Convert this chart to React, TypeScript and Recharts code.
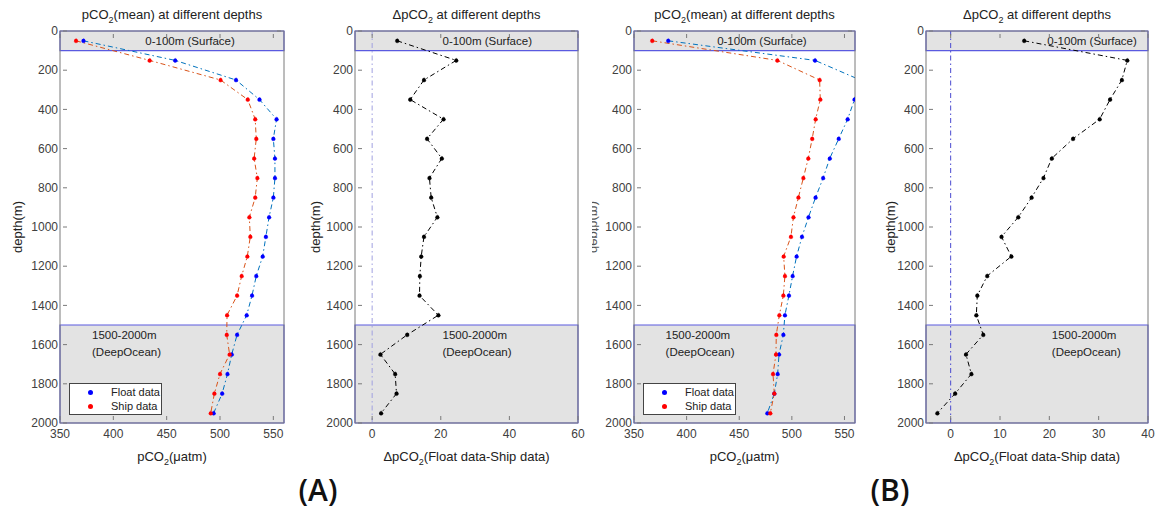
import React from "react";
import {
  LineChart,
  Line,
  XAxis,
  YAxis,
  ReferenceArea,
  ReferenceLine,
  ReferenceDot,
  Legend,
} from "recharts";

// depth bins (m), centre of each 100 m layer
const DEPTHS = [
  50, 150, 250, 350, 450, 550, 650, 750, 850, 950, 1050, 1150, 1250, 1350,
  1450, 1550, 1650, 1750, 1850, 1950,
];

// (A)
const FLOAT_A = [
  372, 458, 515, 537, 553, 550, 551.5, 551.5, 550, 546, 543, 540, 534, 530,
  525, 516, 511, 507, 502, 494,
];
const SHIP_A = [
  365, 434, 500.5, 526, 533, 534, 532, 535, 533, 527.5, 528.4, 525.6, 520.3,
  516, 506.6, 506.3, 509, 500, 494.7, 491.3,
];
const DELTA_A = [
  7.3, 24.5, 15.1, 11.1, 20.8, 16.0, 20.3, 16.7, 17.2, 19.0, 15.1, 14.3, 13.9,
  13.8, 19.3, 10.2, 2.4, 6.7, 7.1, 2.6,
];

// (B)
const FLOAT_B = [
  382.5, 522, 565, 559.5, 553, 544.5, 536, 529.7, 522.5, 515.8, 509.6, 504.5,
  500.7, 497.2, 493.4, 491.9, 487.8, 486.5, 483.3, 476.7,
];
const SHIP_B = [
  367.3, 486.2, 526.4, 527, 522.6, 519.3, 515.6, 510.9, 506.2, 501.5, 499.1,
  492.2, 493.4, 491.9, 488.1, 485.2, 484.9, 482.1, 483.3, 479.5,
];
const DELTA_B = [
  14.9, 35.8, 34.7, 32.3, 30.2, 24.8, 20.5, 18.8, 16.4, 13.7, 10.3, 12.3, 7.4,
  5.4, 5.2, 6.6, 3.1, 4.2, 0.9, -2.7,
];

const DEPTH_TICKS = [0, 200, 400, 600, 800, 1000, 1200, 1400, 1600, 1800, 2000];
const PCO2_TICKS = [350, 400, 450, 500, 550];
const DELTA_TICKS_A = [0, 20, 40, 60];
const DELTA_TICKS_B = [0, 10, 20, 30, 40];

const FONT = '"Liberation Sans", Arial, sans-serif';
const AXIS = "#7a7a7a";
const TICK_TEXT = "#404040";
const TEXT = "#222";
const BAND = "#e3e3e3";
const BAND_EDGE = "#5a5ae0";
const DASH_DOT = "5 3 1.5 3";
const TM = 5;
const AXIS_W = 60;
const RIGHT_PAD = 12;
const PLOT_TOP = 31;
const PLOT_H = 392;

const MARKER: Record<string, string> = {
  "Float data": "#0000ff",
  "Ship data": "#ff0000",
};

function LeftTick(p: any) {
  const ax = p.x + TM;
  return (
    <g>
      <line x1={ax} x2={ax + 4} y1={p.y} y2={p.y} stroke={AXIS} />
      <text x={p.x} y={p.y} dy="0.35em" textAnchor="end" fontSize={12} fill={TICK_TEXT} fontFamily={FONT}>
        {p.payload.value}
      </text>
    </g>
  );
}

function RightTick(p: any) {
  const ax = p.x - TM;
  return <line x1={ax} x2={ax - 4} y1={p.y} y2={p.y} stroke={AXIS} />;
}

function BottomTick(p: any) {
  const ay = p.y - TM;
  return (
    <g>
      <line x1={p.x} x2={p.x} y1={ay} y2={ay - 4} stroke={AXIS} />
      <text x={p.x} y={ay + 18} textAnchor="middle" fontSize={12} fill={TICK_TEXT} fontFamily={FONT}>
        {p.payload.value}
      </text>
    </g>
  );
}

function TopTick(p: any) {
  const ay = p.y + TM;
  return <line x1={p.x} x2={p.x} y1={ay} y2={ay + 4} stroke={AXIS} />;
}

function bandText(value: string) {
  return (p: any) => (
    <text x={p.viewBox.x} y={p.viewBox.y} dy="0.35em" fontSize={11.5} fill={TEXT} fontFamily={FONT}>
      {value}
    </text>
  );
}

function LegendBox({ payload }: any) {
  return (
    <div
      style={{
        border: "1px solid #444",
        background: "#fff",
        width: 91,
        padding: "1px 0",
        fontFamily: FONT,
        fontSize: 11,
        color: TEXT,
        whiteSpace: "nowrap",
      }}
    >
      {(payload || []).map((e: any) => (
        <div key={e.value} style={{ display: "flex", alignItems: "center", height: 14 }}>
          <span
            style={{
              width: 5,
              height: 5,
              borderRadius: 3,
              background: MARKER[e.value],
              marginLeft: 18,
              marginRight: 18,
              flex: "none",
            }}
          />
          {e.value}
        </div>
      ))}
    </div>
  );
}

type Series = { key: string; name: string; line: string; marker: string };

function Panel({
  plotLeft,
  plotWidth,
  xDomain,
  xTicks,
  data,
  series,
  textX,
  zeroColor,
  legend,
}: {
  plotLeft: number;
  plotWidth: number;
  xDomain: [number, number];
  xTicks: number[];
  data: Record<string, number>[];
  series: Series[];
  textX: [number, number];
  zeroColor?: string;
  legend?: boolean;
}) {
  return (
    <div style={{ position: "absolute", left: plotLeft - AXIS_W, top: 0 }}>
      <LineChart
        layout="vertical"
        width={AXIS_W + plotWidth + 1 + RIGHT_PAD}
        height={PLOT_TOP + PLOT_H + 30}
        data={data}
        margin={{ top: PLOT_TOP - 1, right: RIGHT_PAD, bottom: 0, left: 0 }}
      >
        <XAxis
          type="number"
          domain={xDomain}
          ticks={xTicks}
          interval={0}
          allowDataOverflow
          height={30}
          tickSize={0}
          tickLine={false}
          tick={BottomTick}
          stroke={AXIS}
        />
        <XAxis
          xAxisId="top"
          orientation="top"
          type="number"
          domain={xDomain}
          ticks={xTicks}
          interval={0}
          allowDataOverflow
          height={1}
          tickSize={0}
          tickLine={false}
          tick={TopTick}
          stroke={AXIS}
        />
        <YAxis
          type="number"
          dataKey="depth"
          domain={[0, 2000]}
          ticks={DEPTH_TICKS}
          interval={0}
          allowDataOverflow
          width={AXIS_W}
          tickSize={0}
          tickLine={false}
          tick={LeftTick}
          stroke={AXIS}
        />
        <YAxis
          yAxisId="right"
          orientation="right"
          type="number"
          domain={[0, 2000]}
          ticks={DEPTH_TICKS}
          interval={0}
          allowDataOverflow
          width={1}
          tickSize={0}
          tickLine={false}
          tick={RightTick}
          stroke={AXIS}
        />
        <ReferenceArea y1={0} y2={100} fill={BAND} fillOpacity={1} stroke={BAND_EDGE} strokeWidth={1.2} />
        <ReferenceArea y1={1500} y2={2000} fill={BAND} fillOpacity={1} stroke={BAND_EDGE} strokeWidth={1.2} />
        {zeroColor && (
          <ReferenceLine x={0} stroke={zeroColor} strokeDasharray={DASH_DOT} strokeWidth={1} />
        )}
        <ReferenceDot x={textX[0]} y={52} r={0} fill="none" stroke="none" label={bandText("0-100m (Surface)")} />
        <ReferenceDot x={textX[1]} y={1551} r={0} fill="none" stroke="none" label={bandText("1500-2000m")} />
        <ReferenceDot x={textX[1]} y={1636} r={0} fill="none" stroke="none" label={bandText("(DeepOcean)")} />
        {series.map((s) => (
          <Line
            key={s.key}
            dataKey={s.key}
            name={s.name}
            type="linear"
            stroke={s.line}
            strokeWidth={1}
            strokeDasharray={DASH_DOT}
            dot={{ r: 2, fill: s.marker, stroke: s.marker, strokeWidth: 0.5 }}
            activeDot={false}
            isAnimationActive={false}
          />
        ))}
        {legend && (
          <Legend
            layout="vertical"
            align="center"
            verticalAlign="middle"
            content={LegendBox}
            wrapperStyle={{ position: "absolute", left: AXIS_W + 9, top: 383, width: 93 }}
          />
        )}
      </LineChart>
    </div>
  );
}

const rowsA = DEPTHS.map((d, i) => ({ depth: d, float: FLOAT_A[i], ship: SHIP_A[i], delta: DELTA_A[i] }));
const rowsB = DEPTHS.map((d, i) => ({ depth: d, float: FLOAT_B[i], ship: SHIP_B[i], delta: DELTA_B[i] }));

const PCO2_SERIES: Series[] = [
  { key: "float", name: "Float data", line: "#0072bd", marker: "#0000ff" },
  { key: "ship", name: "Ship data", line: "#d95319", marker: "#ff0000" },
];
const DELTA_SERIES: Series[] = [{ key: "delta", name: "Delta", line: "#000", marker: "#000" }];

function Sub({ pre, post }: { pre: string; post: string }) {
  return (
    <>
      {pre}
      <tspan fontSize={9} dy={4}>2</tspan>
      <tspan dy={-4}>{post}</tspan>
    </>
  );
}

export default function App() {
  const panels = [
    { left: 60, w: 224 },
    { left: 355, w: 223 },
    { left: 634, w: 221 },
    { left: 926, w: 222 },
  ];
  const cx = panels.map((p) => p.left + p.w / 2);
  return (
    <div
      style={{
        position: "absolute",
        left: 0,
        top: 0,
        width: 1163,
        height: 513,
        background: "#fff",
        overflow: "hidden",
        fontFamily: FONT,
      }}
    >
      <Panel plotLeft={60} plotWidth={224} xDomain={[350, 560]} xTicks={PCO2_TICKS} data={rowsA} series={PCO2_SERIES} textX={[430, 380]} legend />
      <Panel plotLeft={355} plotWidth={223} xDomain={[-5, 60]} xTicks={DELTA_TICKS_A} data={rowsA} series={DELTA_SERIES} textX={[20.5, 20.5]} zeroColor="#a0a0e0" />
      <Panel plotLeft={634} plotWidth={221} xDomain={[350, 560]} xTicks={PCO2_TICKS} data={rowsB} series={PCO2_SERIES} textX={[429, 380]} legend />
      <Panel plotLeft={926} plotWidth={222} xDomain={[-5, 40]} xTicks={DELTA_TICKS_B} data={rowsB} series={DELTA_SERIES} textX={[19.6, 20.5]} zeroColor="#4a4ad0" />

      <svg width={1163} height={513} style={{ position: "absolute", left: 0, top: 0, pointerEvents: "none" }} fontFamily={FONT}>
        <defs>
          <clipPath id="cut">
            <rect x={592} y={190} width={10} height={80} />
          </clipPath>
        </defs>
        <g fontSize={13} fill={TEXT} textAnchor="middle">
          <text x={cx[0]} y={19}><Sub pre="pCO" post="(mean) at different depths" /></text>
          <text x={cx[1]} y={19}><Sub pre="ΔpCO" post=" at different depths" /></text>
          <text x={cx[2]} y={19}><Sub pre="pCO" post="(mean) at different depths" /></text>
          <text x={cx[3]} y={19}><Sub pre="ΔpCO" post=" at different depths" /></text>

          <text x={cx[0]} y={461}><Sub pre="pCO" post="(μatm)" /></text>
          <text x={cx[1]} y={461}><Sub pre="ΔpCO" post="(Float data-Ship data)" /></text>
          <text x={cx[2]} y={461}><Sub pre="pCO" post="(μatm)" /></text>
          <text x={cx[3]} y={461}><Sub pre="ΔpCO" post="(Float data-Ship data)" /></text>

          <text transform="translate(17,227) rotate(-90)" dy="0.35em">depth(m)</text>
          <text transform="translate(315,227) rotate(-90)" dy="0.35em">depth(m)</text>
          <text transform="translate(890,227) rotate(-90)" dy="0.35em">depth(m)</text>
          <g clipPath="url(#cut)">
            <text transform="translate(595,227) scale(-1,1) rotate(-90)" dy="0.35em" fill="#555">depth(m)</text>
          </g>
        </g>
        <g fontFamily='"Open Sans", sans-serif' fontSize={30} fontWeight={600} fill="#111" textAnchor="middle">
          <text x={318} y={501}>(A)</text>
          <text x={890} y={501}>(B)</text>
        </g>
      </svg>
    </div>
  );
}
